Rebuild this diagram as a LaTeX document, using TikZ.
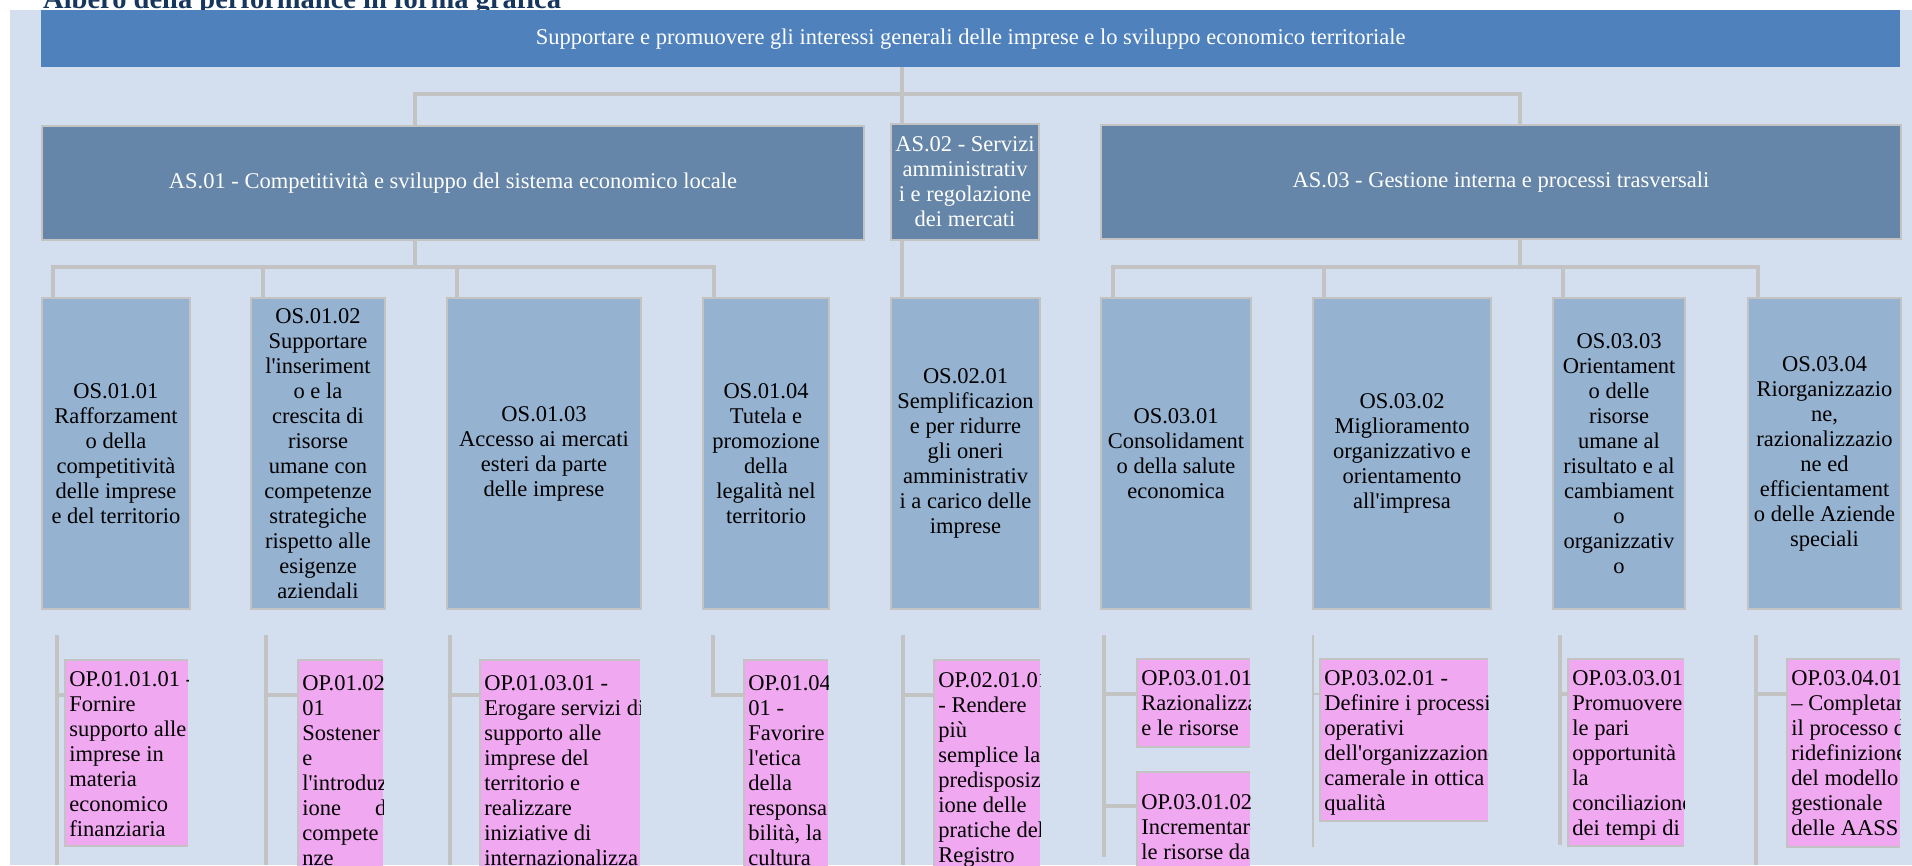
\documentclass[tikz,border=0pt]{standalone}
\usepackage{fontspec}
\setmainfont{Liberation Serif}
\definecolor{bgc}{RGB}{211,223,238}
\definecolor{bandc}{RGB}{79,129,189}
\definecolor{asc}{RGB}{101,134,168}
\definecolor{osc}{RGB}{149,178,208}
\definecolor{opc}{RGB}{240,168,240}
\definecolor{linec}{RGB}{195,195,195}
\definecolor{titlec}{RGB}{23,54,93}
\newcommand\boxfont{\fontsize{22.5}{25}\selectfont}
\newcommand\ap{\textquotesingle}
\pgfdeclarelayer{back}
\pgfdeclarelayer{lines}
\pgfsetlayers{back,lines,main}
\tikzset{
 conn/.style={draw=linec, line width=4pt},
 thinconn/.style={draw=linec, line width=1.5pt},
 topband/.style={fill=bandc, text=white, anchor=north west, inner sep=0pt, font=\boxfont},
 asbox/.style={fill=asc, draw=linec, line width=2pt, text=white, anchor=north west, inner sep=1pt, align=center, font=\boxfont},
 osbox/.style={fill=osc, draw=linec, line width=2pt, text=black, anchor=north west, inner sep=1pt, align=center, font=\boxfont},
 opbox/.style={fill=opc, anchor=north west, inner sep=0pt},
 optext/.style={anchor=north west, align=left, inner xsep=4pt, inner ysep=11pt, font=\boxfont, text=black},
 opedge/.style={draw=linec, line width=2pt},
}
\begin{document}
\begin{tikzpicture}[x=1pt,y=-1pt]
\useasboundingbox (0,0) rectangle (1912,865);
% title (only its lower part is visible)
\begin{scope}
\clip (0,0) rectangle (1912,10);
\node[anchor=base west, font=\bfseries\fontsize{28.5}{32}\selectfont, text=titlec, inner sep=0pt] (title) at (43,8) {Albero della performance in forma grafica};
\end{scope}
\begin{pgfonlayer}{back}
\fill[bgc] (10,10) rectangle (1912,865);
\end{pgfonlayer}

% top band
\node[topband, minimum width=1859pt, minimum height=57pt] (band) at (41,10) {Supportare e promuovere gli interessi generali delle imprese e lo sviluppo economico territoriale};

% AS level
\node[asbox, minimum width=822pt, minimum height=114pt] (as01) at (41,125) {AS.01 - Competitività e sviluppo del sistema economico locale};
\node[asbox, minimum width=148pt, minimum height=116pt] (as02) at (890,123) {AS.02 - Servizi\\amministrativ\\i e regolazione\\dei mercati};
\node[asbox, minimum width=800pt, minimum height=114pt] (as03) at (1100,124) {AS.03 - Gestione interna e processi trasversali};

% OS level
\node[osbox, minimum width=148pt, minimum height=311pt] (os0101) at (41,297) {OS.01.01\\Rafforzament\\o della\\competitività\\delle imprese\\e del territorio};
\node[osbox, minimum width=134pt, minimum height=311pt] (os0102) at (250,297) {OS.01.02\\Supportare\\l\ap inseriment\\o e la\\crescita di\\risorse\\umane con\\competenze\\strategiche\\rispetto alle\\esigenze\\aziendali};
\node[osbox, minimum width=194pt, minimum height=311pt] (os0103) at (446,297) {OS.01.03\\Accesso ai mercati\\esteri da parte\\delle imprese};
\node[osbox, minimum width=126pt, minimum height=311pt] (os0104) at (702,297) {OS.01.04\\Tutela e\\promozione\\della\\legalità nel\\territorio};
\node[osbox, minimum width=149pt, minimum height=311pt] (os0201) at (890,297) {OS.02.01\\Semplificazion\\e per ridurre\\gli oneri\\amministrativ\\i a carico delle\\imprese};
\node[osbox, minimum width=150pt, minimum height=311pt] (os0301) at (1100,297) {OS.03.01\\Consolidament\\o della salute\\economica};
\node[osbox, minimum width=178pt, minimum height=311pt] (os0302) at (1312,297) {OS.03.02\\Miglioramento\\organizzativo e\\orientamento\\all\ap impresa};
\node[osbox, minimum width=132pt, minimum height=311pt] (os0303) at (1552,297) {OS.03.03\\Orientament\\o delle\\risorse\\umane al\\risultato e al\\cambiament\\o\\organizzativ\\o};
\node[osbox, minimum width=153pt, minimum height=311pt] (os0304) at (1747,297) {OS.03.04\\Riorganizzazio\\ne,\\razionalizzazio\\ne ed\\efficientament\\o delle Aziende\\speciali};

% OP level
\node[opbox, minimum width=123pt, minimum height=186pt, path picture={\node[optext] at (path picture bounding box.north west) {OP.01.01.01 -\\Fornire\\supporto alle\\imprese in\\materia\\economico\\finanziaria};}] (op010101) at (65,660) {};
\node[opbox, minimum width=85pt, minimum height=220pt, path picture={\node[optext] at (path picture bounding box.north west) {OP.01.02.\\01\\Sostener\\e\\l\ap introduz\\ione\hspace{34pt}di\\compete\\nze};}] (op010201) at (298,660) {};
\node[opbox, minimum width=160pt, minimum height=220pt, path picture={\node[optext] at (path picture bounding box.north west) {OP.01.03.01 -\\Erogare servizi di\\supporto alle\\imprese del\\territorio e\\realizzare\\iniziative di\\internazionalizza};}] (op010301) at (480,660) {};
\node[opbox, minimum width=84pt, minimum height=220pt, path picture={\node[optext] at (path picture bounding box.north west) {OP.01.04.\\01 -\\Favorire\\l\ap etica\\della\\responsa\\bilità, la\\cultura};}] (op010401) at (744,660) {};
\node[opbox, minimum width=106pt, minimum height=220pt, path picture={\node[optext] at (path picture bounding box.north west) {OP.02.01.01\\- Rendere\\più\\semplice la\\predisposiz\\ione delle\\pratiche del\\Registro};}] (op020101) at (934,660) {};
\node[opbox, minimum width=113pt, minimum height=88pt, path picture={\node[optext] at (path picture bounding box.north west) {OP.03.01.01\\Razionalizzare\\e le risorse};}] (op030101) at (1137,659) {};
\node[opbox, minimum width=113pt, minimum height=110pt, path picture={\node[optext] at (path picture bounding box.north west) {OP.03.01.02\\Incrementare\\le risorse da};}] (op030102) at (1137,772) {};
\node[opbox, minimum width=168pt, minimum height=162pt, path picture={\node[optext] at (path picture bounding box.north west) {OP.03.02.01 -\\Definire i processi\\operativi\\dell\ap organizzazione\\camerale in ottica\\qualità};}] (op030201) at (1320,659) {};
\node[opbox, minimum width=116pt, minimum height=187pt, path picture={\node[optext] at (path picture bounding box.north west) {OP.03.03.01\\Promuovere\\le pari\\opportunità\\la\\conciliazione\\dei tempi di};}] (op030301) at (1568,659) {};
\node[opbox, minimum width=113pt, minimum height=188pt, path picture={\node[optext] at (path picture bounding box.north west) {OP.03.04.01\\– Completare\\il processo di\\ridefinizione\\del modello\\gestionale\\delle AASS};}] (op030401) at (1787,659) {};
\foreach \n in {op010101,op010201,op010301,op010401,op020101,op030101,op030102,op030201,op030301,op030401}
  \draw[opedge] (\n.north east) -| (\n.south west) -- (\n.south east);

\begin{pgfonlayer}{lines}
% top bus
\coordinate (t0) at (902,94);
\coordinate (tL) at (415,94);
\coordinate (tR) at (1520,94);
\draw[conn] (band.south -| t0) -- (t0 |- as02.north);
\draw[conn] (tL |- as01.north) -- (tL) -- (tR) -- (tR |- as03.north);
% AS.01 bus
\coordinate (a0) at (415,267);
\coordinate (c1) at (53,267);
\coordinate (c2) at (263,267);
\coordinate (c3) at (457,267);
\coordinate (c4) at (714,267);
\draw[conn] (as01.south -| a0) -- (a0);
\draw[conn] (c1 |- os0101.north) -- (c1) -- (c4) -- (c4 |- os0104.north);
\draw[conn] (c2) -- (c2 |- os0102.north);
\draw[conn] (c3) -- (c3 |- os0103.north);
% AS.02
\coordinate (c5) at (902,267);
\draw[conn] (as02.south -| c5) -- (c5 |- os0201.north);
% AS.03 bus
\coordinate (d0) at (1520,267);
\coordinate (d1) at (1113,267);
\coordinate (d2) at (1324,267);
\coordinate (d3) at (1563,267);
\coordinate (d4) at (1758,267);
\draw[conn] (as03.south -| d0) -- (d0);
\draw[conn] (d1 |- os0301.north) -- (d1) -- (d4) -- (d4 |- os0304.north);
\draw[conn] (d2) -- (d2 |- os0302.north);
\draw[conn] (d3) -- (d3 |- os0303.north);
% OP columns
\coordinate (p1) at (57,635);  \coordinate (p1b) at (57,695);  \coordinate (p1e) at (57,865);
\draw[conn] (p1) -- (p1e);
\draw[conn] (p1b) -- (p1b -| op010101.west);
\coordinate (p2) at (266,635); \coordinate (p2b) at (266,695); \coordinate (p2e) at (266,865);
\draw[conn] (p2) -- (p2e);
\draw[conn] (p2b) -- (p2b -| op010201.west);
\coordinate (p3) at (450,635); \coordinate (p3b) at (450,695); \coordinate (p3e) at (450,865);
\draw[conn] (p3) -- (p3e);
\draw[conn] (p3b) -- (p3b -| op010301.west);
\coordinate (p4) at (713,635); \coordinate (p4b) at (713,695);
\draw[conn] (p4) -- (p4b) -- (p4b -| op010401.west);
\coordinate (p5) at (903,635); \coordinate (p5b) at (903,695); \coordinate (p5e) at (903,865);
\draw[conn] (p5) -- (p5e);
\draw[conn] (p5b) -- (p5b -| op020101.west);
\coordinate (p6) at (1104,635); \coordinate (p6b) at (1104,694); \coordinate (p6c) at (1104,806); \coordinate (p6e) at (1104,857);
\draw[conn] (p6) -- (p6e);
\draw[conn] (p6b) -- (p6b -| op030101.west);
\draw[conn] (p6c) -- (p6c -| op030102.west);
\coordinate (p7) at (1313,635); \coordinate (p7b) at (1313,694); \coordinate (p7e) at (1313,847);
\draw[thinconn] (p7) -- (p7e);
\draw[thinconn] (p7b) -- (p7b -| op030201.west);
\coordinate (p8) at (1560,635); \coordinate (p8b) at (1560,694); \coordinate (p8e) at (1560,845);
\draw[conn] (p8) -- (p8e);
\draw[conn] (p8b) -- (p8b -| op030301.west);
\coordinate (p9) at (1756,635); \coordinate (p9b) at (1756,694); \coordinate (p9e) at (1756,865);
\draw[conn] (p9) -- (p9e);
\draw[conn] (p9b) -- (p9b -| op030401.west);
\end{pgfonlayer}
\end{tikzpicture}
\end{document}
